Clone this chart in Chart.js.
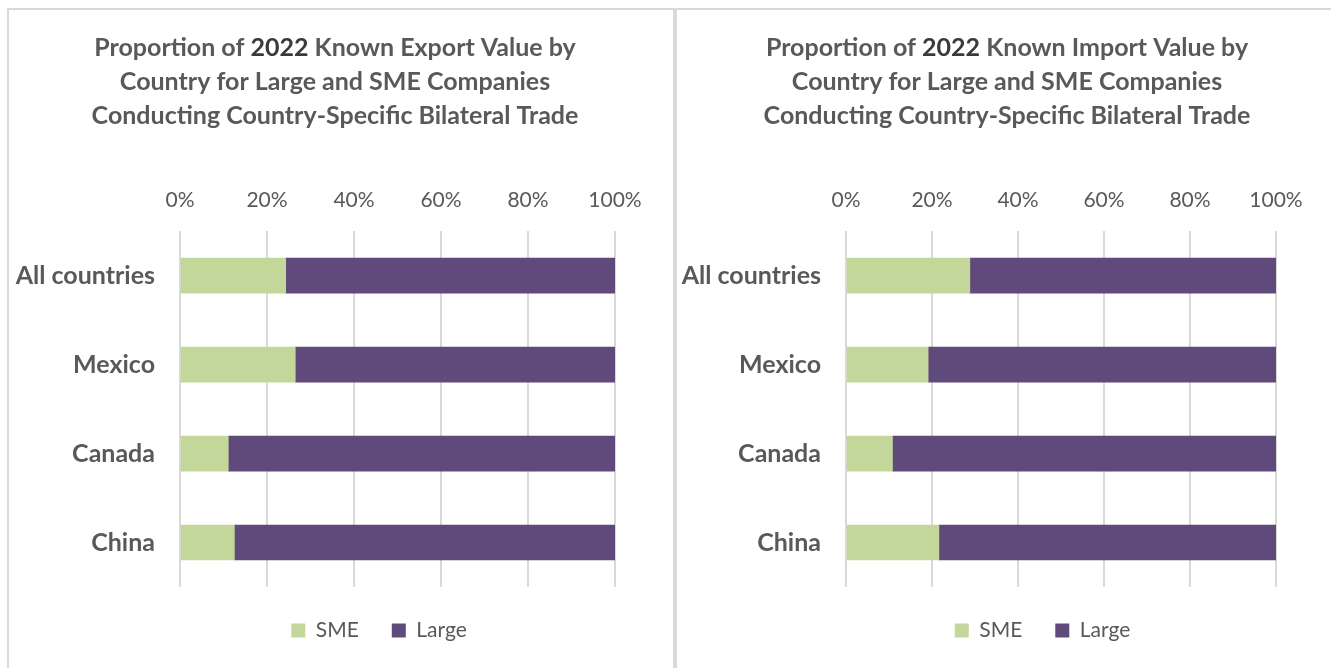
<!DOCTYPE html>
<html>
<head>
<meta charset="utf-8">
<script src="https://cdn.jsdelivr.net/npm/chart.js@4.4.1/dist/chart.umd.min.js"></script>
<style>
  html, body { margin: 0; padding: 0; background: #fff; overflow: hidden; width: 1331px; height: 668px; }
  .box { position: absolute; top: 8px; border: 2px solid #d9d9d9; background: #fff; height: 680px; }
  #boxL { left: 7px; width: 664px; }
  #boxR { left: 675px; width: 660px; }
  canvas { display: block; }
</style>
</head>
<body>
<div class="box" id="boxL"><canvas id="exportChart" width="664" height="660" style="width:664px;height:660px"></canvas></div>
<div class="box" id="boxR"><canvas id="importChart" width="660" height="660" style="width:660px;height:660px"></canvas></div>
<script>
const countries = ["All countries", "Mexico", "Canada", "China"];
const seriesNames = ["SME", "Large"];
// shares in %
const exportSME = [24.3, 26.5, 11.1, 12.5];
const exportLarge = [75.7, 73.5, 88.9, 87.5];
const importSME = [28.8, 19.1, 10.8, 21.6];
const importLarge = [71.2, 80.9, 89.2, 78.4];
const xTicks = [0, 20, 40, 60, 80, 100];
const exportTitle = ["Proportion of 2022 Known Export Value by", "Country for Large and SME Companies", "Conducting Country-Specific Bilateral Trade"];
const importTitle = ["Proportion of 2022 Known Import Value by", "Country for Large and SME Companies", "Conducting Country-Specific Bilateral Trade"];

const smeColor = "#c4d79b";
const largeColor = "#604a7b";
const textColor = "#595959";
const gridColor = "#d9d9d9";
const fontFam = "Lato, 'Open Sans', sans-serif";

// title with the year a bit darker, like the Excel original
const titlePlugin = {
  id: "titleDraw",
  afterDraw(chart, args, opts) {
    const ctx = chart.ctx;
    ctx.save();
    ctx.font = "bold " + opts.size + "px " + fontFam;
    ctx.textBaseline = "middle";
    ctx.textAlign = "left";
    opts.lines.forEach((line, i) => {
      const y = opts.top + i * opts.lineGap;
      let x = opts.cx - ctx.measureText(line).width / 2;
      line.split(/(2022)/).forEach(part => {
        if (!part) return;
        ctx.fillStyle = part === "2022" ? "#3a3a3a" : textColor;
        ctx.fillText(part, x, y);
        x += ctx.measureText(part).width;
      });
    });
    ctx.restore();
  }
};

// nudge the legend sideways, Excel does not center it on the frame
const legendShift = {
  id: "legendShift",
  afterLayout(chart, args, opts) {
    chart.legend.left += opts.dx;
    chart.legend.right += opts.dx;
  }
};

function makeChart(id, title, sme, large, yWidth, rightPad, titleCx, legendDx) {
  return new Chart(id, {
    type: "bar",
    data: {
      labels: countries,
      datasets: [
        { label: seriesNames[0], data: sme, backgroundColor: smeColor, borderWidth: 0, barThickness: 35 },
        { label: seriesNames[1], data: large, backgroundColor: largeColor, borderWidth: 0, barThickness: 35 }
      ]
    },
    options: {
      indexAxis: "y",
      responsive: false,
      animation: false,
      layout: { padding: { top: 160, right: rightPad, bottom: 19, left: 0 } },
      scales: {
        x: {
          position: "top",
          stacked: true,
          min: 0, max: 100,
          afterBuildTicks: (scale) => { scale.ticks = xTicks.map(v => ({ value: v })); },
          ticks: { color: textColor, padding: 18, font: { family: fontFam, size: 21 }, callback: v => v + "%" },
          grid: { color: gridColor, lineWidth: 2, drawTicks: false },
          border: { display: false }
        },
        y: {
          stacked: true,
          afterFit: (scale) => { scale.width = yWidth; },
          ticks: { color: textColor, padding: 17, font: { family: fontFam, size: 25, weight: "bold" } },
          grid: { display: false },
          border: { display: false }
        }
      },
      plugins: {
        title: { display: false },
        tooltip: { enabled: false },
        legend: {
          position: "bottom",
          labels: { color: textColor, boxWidth: 14, boxHeight: 14, padding: 33, font: { family: fontFam, size: 21 } }
        },
        titleDraw: { lines: title, size: 25, top: 38, lineGap: 34, cx: titleCx },
        legendShift: { dx: legendDx }
      }
    },
    plugins: [titlePlugin, legendShift]
  });
}

makeChart("exportChart", exportTitle, exportSME, exportLarge, 171, 58, 326, 67);
makeChart("importChart", importTitle, importSME, importLarge, 169, 61, 330, 66);
</script>
</body>
</html>
